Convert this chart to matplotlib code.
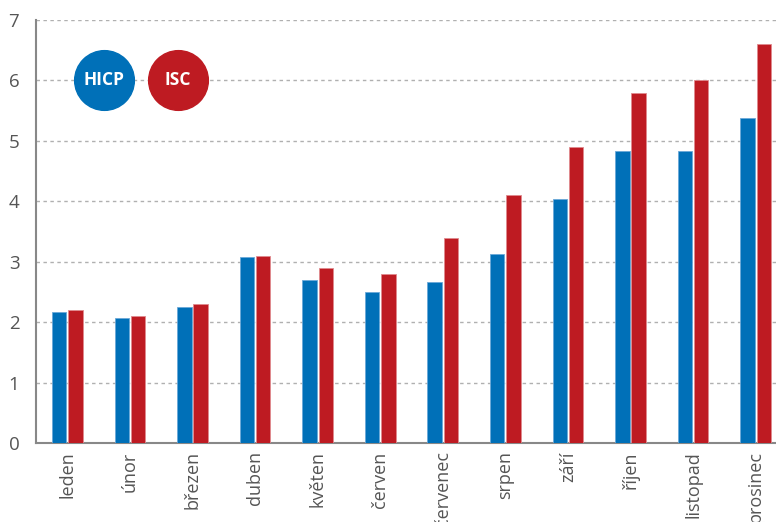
import matplotlib.pyplot as plt
import numpy as np

plt.rcParams['font.family'] = ['Open Sans', 'DejaVu Sans']

months = ['leden', 'únor', 'březen', 'duben', 'květen', 'červen',
          'červenec', 'srpen', 'září', 'říjen', 'listopad', 'prosinec']
hicp = [2.17, 2.07, 2.25, 3.07, 2.7, 2.5, 2.67, 3.12, 4.03, 4.83, 4.83, 5.38]
isc = [2.2, 2.1, 2.3, 3.1, 2.9, 2.8, 3.4, 4.1, 4.9, 5.8, 6.0, 6.6]

blue = '#0070b8'
red = '#be1b22'
grey = '#555555'

fig = plt.figure(figsize=(7.76, 5.22), dpi=100)
ax = fig.add_axes([36 / 776, 79 / 522, 751 / 776, 423 / 522])

x = np.arange(len(months))
w = 0.23
ax.bar(x - w / 2 - 0.015, hicp, width=w, color=blue, edgecolor='#6aa8d8', linewidth=0.6, zorder=3)
ax.bar(x + w / 2 + 0.015, isc, width=w, color=red, edgecolor='#e08a8e', linewidth=0.6, zorder=3)

ax.set_xlim(-0.5, 11.5)
ax.set_ylim(0, 7)
ax.set_yticks(range(0, 8))
ax.yaxis.grid(True, linestyle=(0, (2.5, 2.5)), color='#b0b0b0', linewidth=1)
ax.set_axisbelow(True)
ax.set_xticks(x)
ax.set_xticklabels(months, rotation=90, fontsize=13, color=grey)
ax.tick_params(axis='y', length=0, pad=12, labelsize=13.5, labelcolor=grey)
ax.tick_params(axis='x', length=0, pad=6)

for s in ['top', 'right']:
    ax.spines[s].set_visible(False)
for s in ['left', 'bottom']:
    ax.spines[s].set_color('#888888')
    ax.spines[s].set_linewidth(1.5)

# legend bubbles
for xc, lab, col in [(0.0905, 'HICP', blue), (0.189, 'ISC', red)]:
    ax.scatter([xc], [0.858], s=1850, color=col, transform=ax.transAxes, zorder=5, clip_on=False)
    ax.text(xc, 0.858, lab, transform=ax.transAxes, ha='center', va='center',
            color='white', fontsize=12.5, fontweight='bold', zorder=6)

fig.savefig('out.png', dpi=100)
